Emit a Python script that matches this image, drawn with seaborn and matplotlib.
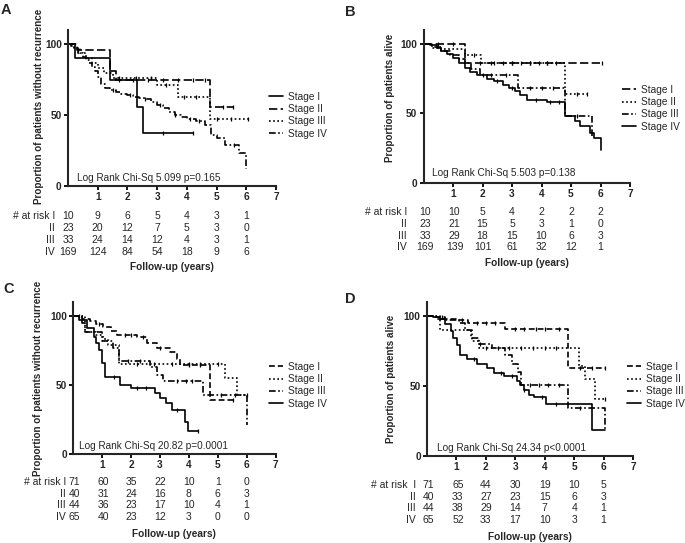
import numpy as np
import pandas as pd
import matplotlib
matplotlib.use("Agg")
import matplotlib.pyplot as plt
import matplotlib.transforms as mtransforms
import seaborn as sns

# ---------------- data ----------------
stages = ["Stage I", "Stage II", "Stage III", "Stage IV"]
years_cols = [0, 1, 2, 3, 4, 5, 6]
row_labels = ["# at risk I", "II", "III", "IV"]

# Panel A: recurrence-free, all patients
a_t1 = [0, 0.24, 1.41, 2.31, 2.54, 4.22]
a_s1 = [100, 90, 75, 56, 37.5, 37.5]
a_t2 = [0, 0.3, 1.41, 1.6, 4.78, 5.55]
a_s2 = [100, 96, 81, 75, 56, 56]
a_t3 = [0, 0.2, 0.4, 0.6, 0.8, 1.0, 1.2, 1.5, 2.99, 3.7, 4.78, 6.05]
a_s3 = [100, 97, 94, 90, 87, 83, 80, 76, 71.5, 62.5, 47, 47]
a_t4 = [0, 0.1, 0.2, 0.35, 0.5, 0.6, 0.7, 0.8, 0.9, 1.0, 1.1, 1.25, 1.4, 1.6, 1.8,
        2.0, 2.2, 2.4, 2.6, 2.8, 3.0, 3.2, 3.4, 3.6, 3.8, 4.0, 4.3, 4.6, 4.8, 5.0,
        5.3, 5.75, 6.0]
a_s4 = [100, 99, 97, 94, 91, 89, 87, 84, 81, 77, 72, 69, 68, 66, 65,
        64, 63, 62, 61, 59, 57, 55, 52, 50, 49, 47, 46, 43, 36, 34,
        29, 23, 12]
a_c1 = [3.2, 4.22]
a_c2 = [0.35, 1.7, 2.2, 2.7, 3.2, 3.7, 4.2, 4.6, 5.2, 5.55]
a_c3 = [1.7, 2.3, 2.8, 3.3, 3.9, 4.3, 5.0, 5.5, 6.05]
a_c4 = [1.5, 2.1, 2.6, 3.1, 3.6, 4.1, 4.4, 5.6]
a_risk = [[10, 9, 6, 5, 4, 3, 1],
          [23, 20, 12, 7, 5, 3, 0],
          [33, 24, 14, 12, 4, 3, 1],
          [169, 124, 84, 54, 18, 9, 6]]
a_stat = "Log Rank Chi-Sq 5.099 p=0.165"

# Panel B: overall survival, all patients
b_t1 = [0, 1.41, 6.06]
b_s1 = [100, 86, 86]
b_t2 = [0, 0.3, 0.6, 1.41, 1.95, 4.8, 5.55]
b_s2 = [100, 97, 96, 92, 86, 64, 64]
b_t3 = [0, 0.3, 0.6, 0.9, 1.2, 1.4, 1.6, 1.9, 3.2, 4.8, 5.72]
b_s3 = [100, 98, 95, 92, 89, 86, 82, 78, 68, 48, 32]
b_t4 = [0, 0.22, 0.45, 0.6, 0.8, 1.0, 1.2, 1.4, 1.58, 1.8, 2.15, 2.4, 2.71, 2.9,
        3.1, 3.28, 3.51, 4.19, 4.78, 5.15, 5.32, 5.66, 5.77, 6.0]
b_s4 = [100, 99, 97, 95, 93, 90, 86, 83, 80, 78, 75, 73, 70.5, 68,
        66, 63, 60, 58.5, 48, 44.5, 41, 36, 32, 24]
b_c1 = [0.5, 1.0, 1.9, 2.3, 2.7, 3.0, 3.3, 3.6, 3.9, 4.2, 4.5, 6.06]
b_c2 = [1.7, 2.4, 3.0, 3.6, 4.2, 5.2, 5.55]
b_c3 = [2.3, 2.8, 3.6, 4.0, 4.4, 5.2]
b_c4 = [2.0, 2.5, 3.0, 3.8, 4.3, 4.6]
b_risk = [[10, 10, 5, 4, 2, 2, 2],
          [23, 21, 15, 5, 3, 1, 0],
          [33, 29, 18, 15, 10, 6, 3],
          [169, 139, 101, 61, 32, 12, 1]]
b_stat = "Log Rank Chi-Sq 5.503 p=0.138"

# Panel C: recurrence-free, subgroup
c_t1 = [0, 0.3, 0.58, 0.8, 1.04, 1.3, 1.5, 2.19, 2.54, 2.89, 3.35, 3.58, 3.7, 4.73, 5.54]
c_s1 = [100, 98, 96, 94, 92, 89, 86, 85, 80, 76.5, 74, 69, 64.5, 39, 39]
c_t2 = [0, 0.4, 0.8, 1.04, 1.2, 1.57, 5.25, 5.65, 6.0]
c_s2 = [100, 88, 86, 83, 79, 65, 55, 43, 43]
c_t3 = [0, 0.3, 0.4, 1.0, 1.38, 1.57, 2.65, 2.9, 3.1, 4.49, 6.0]
c_s3 = [100, 95, 88, 82, 77, 67, 63, 57, 53, 43, 21]
c_t4 = [0, 0.2, 0.46, 0.7, 0.8, 0.9, 1.0, 1.1, 1.6, 2.0, 2.83, 3.0, 3.2, 3.4, 3.86, 3.97, 4.3]
c_s4 = [100, 97, 91, 85, 80, 75, 66, 56, 50, 48, 44, 40.6, 37, 32, 23.4, 16.7, 16.7]
c_c1 = [0.2, 0.9, 1.8, 2.0, 2.4, 3.0, 4.0, 4.4, 5.54]
c_c2 = [2.2, 2.8, 3.4, 4.0, 4.4, 5.0, 6.0]
c_c3 = [1.9, 2.3, 3.6, 3.9, 4.1, 5.1, 5.6]
c_c4 = [1.4, 2.2, 2.5, 3.6, 4.3]
c_risk = [[71, 60, 35, 22, 10, 1, 0],
          [40, 31, 24, 16, 8, 6, 3],
          [44, 36, 23, 17, 10, 4, 1],
          [65, 40, 23, 12, 3, 0, 0]]
c_stat = "Log Rank Chi-Sq 20.82 p=0.0001"

# Panel D: overall survival, subgroup
d_t1 = [0, 0.3, 0.61, 1.0, 1.4, 2.65, 4.78, 6.05]
d_s1 = [100, 99, 98, 97, 95, 91, 62.6, 62.6]
d_t2 = [0, 0.45, 1.52, 1.75, 5.15, 5.37, 5.72, 6.05]
d_s2 = [100, 90, 82, 77, 64, 55, 41, 41]
d_t3 = [0, 0.3, 0.6, 1.1, 1.3, 1.5, 1.75, 2.2, 2.65, 2.9, 3.1, 3.2, 4.78, 6.05]
d_s3 = [100, 98, 97, 95, 90, 84, 80, 77, 72, 66, 60, 51, 34, 18]
d_t4 = [0, 0.2, 0.45, 0.6, 0.8, 0.9, 1.02, 1.13, 1.36, 1.7, 2.04, 2.27, 2.6,
        3.06, 3.17, 3.29, 3.46, 3.63, 4.03, 5.6, 6.05]
d_s4 = [100, 99, 98, 94, 89, 84, 79, 72, 69, 66, 63, 59, 57,
        53.6, 50.7, 47, 43.6, 42, 37, 18.6, 18.6]
d_c1 = [0.5, 1.2, 1.7, 2.0, 2.3, 3.0, 3.3, 3.7, 4.0, 4.5, 5.2, 5.6, 6.05]
d_c2 = [2.0, 2.4, 2.8, 3.2, 3.6, 4.0, 4.4, 6.05]
d_c3 = [1.8, 3.5, 3.8, 4.1, 4.5, 5.2]
d_c4 = [1.6, 2.5, 2.9, 3.3, 3.9, 4.4]
d_risk = [[71, 65, 44, 30, 19, 10, 5],
          [40, 33, 27, 23, 15, 6, 3],
          [44, 38, 29, 14, 7, 4, 1],
          [65, 52, 33, 17, 10, 3, 1]]
d_stat = "Log Rank Chi-Sq 24.34 p<0.0001"

# ---------------- style ----------------
sns.set_style("ticks")
plt.rcParams["font.family"] = ["Liberation Sans", "DejaVu Sans"]
plt.rcParams["axes.linewidth"] = 1.5

W, H = 685, 543
fig = plt.figure(figsize=(W / 100, H / 100), dpi=100)

SOLID = ""
LDASH = (5, 2)
DOT = (1, 1.5)
DASHDOT = (4, 1.5, 1, 1.5)
CDASH = (3.5, 1.8)

panels = [
    dict(letter="A", letter_xy=(1, 3), box=(68, 276, 30, 186),
         curves=[(a_t1, a_s1, a_c1), (a_t2, a_s2, a_c2), (a_t3, a_s3, a_c3), (a_t4, a_s4, a_c4)],
         dashes=[SOLID, LDASH, DOT, DASHDOT], risk=a_risk, stat=a_stat, stat_pos=(0.3, 5.6),
         ylabel="Proportion of patients without recurrence", ylab_x=44, ylab_y=106,
         leg=(269, 92), rows=[216, 228, 240, 252], follow=267, rowlab_x=-0.44, col_shift=0.0),
    dict(letter="B", letter_xy=(345, 5), box=(423.5, 630, 30, 183),
         curves=[(b_t1, b_s1, b_c1), (b_t2, b_s2, b_c2), (b_t3, b_s3, b_c3), (b_t4, b_s4, b_c4)],
         dashes=[LDASH, DOT, DASHDOT, SOLID], risk=b_risk, stat=b_stat, stat_pos=(0.29, 7.2),
         ylabel="Proportion of patients alive", ylab_x=395, ylab_y=98,
         leg=(622, 85), rows=[212, 224, 236, 247], follow=263, rowlab_x=-0.56, col_shift=0.05),
    dict(letter="C", letter_xy=(3, 282), box=(73.3, 275.5, 302, 454),
         curves=[(c_t1, c_s1, c_c1), (c_t2, c_s2, c_c2), (c_t3, c_s3, c_c3), (c_t4, c_s4, c_c4)],
         dashes=[CDASH, DOT, DASHDOT, SOLID], risk=c_risk, stat=c_stat, stat_pos=(0.2, 5.8),
         ylabel="Proportion of patients without recurrence", ylab_x=43, ylab_y=378,
         leg=(269, 362), rows=[482, 494, 505, 517], follow=534, rowlab_x=-0.26, col_shift=0.03),
    dict(letter="D", letter_xy=(345, 292), box=(427, 633, 302, 456),
         curves=[(d_t1, d_s1, d_c1), (d_t2, d_s2, d_c2), (d_t3, d_s3, d_c3), (d_t4, d_s4, d_c4)],
         dashes=[CDASH, DOT, DASHDOT, SOLID], risk=d_risk, stat=d_stat, stat_pos=(0.34, 5.7),
         ylabel="Proportion of patients alive", ylab_x=396, ylab_y=379,
         leg=(627, 362), rows=[485, 497, 508, 520], follow=537, rowlab_x=-0.37, col_shift=0.05),
]


def step_value(t, s, x):
    t = np.asarray(t)
    s = np.asarray(s)
    idx = np.searchsorted(t, x, side="right") - 1
    return s[np.clip(idx, 0, len(s) - 1)]


for p in panels:
    left, right, top, bottom = p["box"]
    ax = fig.add_axes([left / W, 1 - bottom / H, (right - left) / W, (bottom - top) / H])

    frames, cens = [], []
    for stg, (t, s, c) in zip(stages, p["curves"]):
        frames.append(pd.DataFrame({"t": t, "s": s, "stage": stg}))
        cens.append(pd.DataFrame({"t": c, "s": step_value(t, s, c), "stage": stg}))
    df = pd.concat(frames, ignore_index=True)
    cdf = pd.concat(cens, ignore_index=True)

    sns.lineplot(data=df, x="t", y="s", style="stage", style_order=stages,
                 dashes=dict(zip(stages, p["dashes"])), color="black",
                 estimator=None, sort=False, drawstyle="steps-post",
                 linewidth=1.2, ax=ax, legend="full")
    sns.scatterplot(data=cdf, x="t", y="s", marker="|", color="black", s=7,
                    linewidth=0.9, ax=ax, legend=False)

    ax.set_xlim(0, 7)
    ax.set_ylim(0, 110)
    ax.set_xticks([1, 2, 3, 4, 5, 6, 7])
    ax.set_yticks([0, 50, 100])
    ax.tick_params(axis="both", length=3, width=1.3, labelsize=7.3, pad=1.5, color="black")
    for lab in ax.get_xticklabels() + ax.get_yticklabels():
        lab.set_fontweight("bold")
    sns.despine(ax=ax)
    ax.set_xlabel("")
    ax.set_ylabel(p["ylabel"], fontsize=7.1, fontweight="bold")
    ax.yaxis.set_label_coords((p["ylab_x"] - left) / (right - left),
                              (bottom - p["ylab_y"]) / (bottom - top))

    ax.text(p["stat_pos"][0], p["stat_pos"][1], p["stat"], fontsize=7.2, va="center", ha="left")

    sns.move_legend(ax, "upper left", bbox_to_anchor=(p["leg"][0] / W, 1 - p["leg"][1] / H),
                    bbox_transform=fig.transFigure, frameon=False, title=None,
                    fontsize=7.3, handlelength=1.4, handletextpad=0.5,
                    labelspacing=0.22, borderpad=0, borderaxespad=0)

    tr = mtransforms.blended_transform_factory(ax.transData, fig.transFigure)
    for r, (lab, vals, ry) in enumerate(zip(row_labels, p["risk"], p["rows"])):
        lab_txt = lab
        if p["letter"] == "D" and r == 0:
            lab_txt = "# at risk  I"
        ax.text(p["rowlab_x"], 1 - ry / H, lab_txt, transform=tr, ha="right", va="center",
                fontsize=7.5, clip_on=False)
        for j, (yr, v) in enumerate(zip(years_cols, vals)):
            xx = yr + (p["col_shift"] if j < 2 else 0)
            ax.text(xx, 1 - ry / H, str(v), transform=tr, ha="center", va="center",
                    fontsize=7.5, clip_on=False)
    ax.text(3.5, 1 - p["follow"] / H, "Follow-up (years)", transform=tr, ha="center",
            va="center", fontsize=7.3, fontweight="bold", clip_on=False)

    fig.text(p["letter_xy"][0] / W, 1 - p["letter_xy"][1] / H, p["letter"], fontsize=10.5,
             fontweight="bold", ha="left", va="top")

fig.savefig("out.png", dpi=100)
